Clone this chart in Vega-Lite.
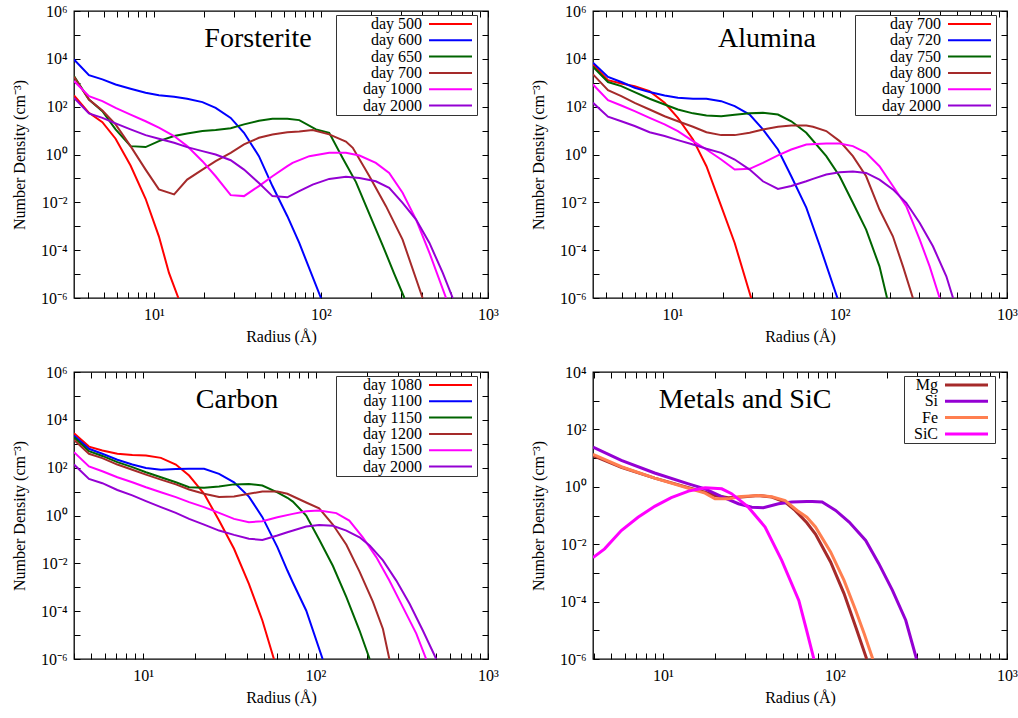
{
  "$schema": "https://vega.github.io/schema/vega-lite/v6.json",
  "padding": {"left": 10, "top": 2, "right": 0, "bottom": 5},
  "config": {
    "font": "Liberation Serif",
    "view": {"stroke": "#000", "strokeWidth": 1.3},
    "axis": {"labelFont": "Liberation Serif", "labelFontSize": 16, "labelColor": "#000", "titleFont": "Liberation Serif", "titleFontSize": 16, "titleFontWeight": "normal", "titleColor": "#000", "tickColor": "#000", "tickWidth": 1, "grid": false, "domain": false, "labelOverlap": false},
    "legend": {"title": null, "orient": "none", "legendY": 4, "symbolType": "M-5.375,0H5.375", "symbolSize": 64, "symbolStrokeWidth": 2, "labelAlign": "right", "labelFont": "Liberation Serif", "labelFontSize": 16, "labelColor": "#000", "strokeColor": "#333", "fillColor": "#fff", "padding": 1, "rowPadding": 0.3, "labelLimit": 300},
    "title": {"font": "Liberation Serif", "fontSize": 28, "fontWeight": "normal", "color": "#000", "anchor": "middle", "frame": "group", "offset": -50, "baseline": "alphabetic"}
  },
  "datasets": {
    "fo": [
      {"s":"day 500","r":3.32,"n":295},{"s":"day 500","r":4.08,"n":55},{"s":"day 500","r":4.91,"n":22.4},{"s":"day 500","r":5.89,"n":4.57},{"s":"day 500","r":7.24,"n":0.347},{"s":"day 500","r":8.91,"n":0.0141},{"s":"day 500","r":10.7,"n":0.00038},{"s":"day 500","r":12.3,"n":0.0000112},{"s":"day 500","r":14.0,"n":0.000001},
      {"s":"day 600","r":3.32,"n":9330},{"s":"day 600","r":4.08,"n":2090},{"s":"day 600","r":4.91,"n":1380},{"s":"day 600","r":5.89,"n":851},{"s":"day 600","r":7.24,"n":562},{"s":"day 600","r":8.91,"n":380},{"s":"day 600","r":10.7,"n":302},{"s":"day 600","r":13.2,"n":257},{"s":"day 600","r":15.8,"n":214},{"s":"day 600","r":19.5,"n":155},{"s":"day 600","r":23.4,"n":89},{"s":"day 600","r":28.8,"n":33.9},{"s":"day 600","r":34.6,"n":8.13},{"s":"day 600","r":42.5,"n":0.851},{"s":"day 600","r":51.2,"n":0.0479},{"s":"day 600","r":62.9,"n":0.00263},{"s":"day 600","r":74.1,"n":0.0002},{"s":"day 600","r":100,"n":0.000001},
      {"s":"day 650","r":3.32,"n":1905},{"s":"day 650","r":4.08,"n":200},{"s":"day 650","r":4.91,"n":64.6},{"s":"day 650","r":5.89,"n":11.2},{"s":"day 650","r":7.24,"n":2.24},{"s":"day 650","r":8.91,"n":2.04},{"s":"day 650","r":10.7,"n":3.63},{"s":"day 650","r":13.2,"n":5.89},{"s":"day 650","r":15.8,"n":7.59},{"s":"day 650","r":19.5,"n":9.55},{"s":"day 650","r":23.4,"n":10.5},{"s":"day 650","r":28.8,"n":12.6},{"s":"day 650","r":34.6,"n":18.2},{"s":"day 650","r":42.5,"n":25.7},{"s":"day 650","r":51.2,"n":30.9},{"s":"day 650","r":62.9,"n":30.9},{"s":"day 650","r":74.1,"n":27.4},{"s":"day 650","r":93.3,"n":11.2},{"s":"day 650","r":112,"n":8.0},{"s":"day 650","r":135,"n":0.7},{"s":"day 650","r":162,"n":0.07},{"s":"day 650","r":195,"n":0.0032},{"s":"day 650","r":234,"n":0.00016},{"s":"day 650","r":275,"n":0.00001},{"s":"day 650","r":316,"n":0.000001},
      {"s":"day 700","r":3.32,"n":1778},{"s":"day 700","r":4.08,"n":200},{"s":"day 700","r":4.91,"n":69.2},{"s":"day 700","r":5.89,"n":18.2},{"s":"day 700","r":7.24,"n":2.24},{"s":"day 700","r":8.91,"n":0.234},{"s":"day 700","r":10.7,"n":0.0347},{"s":"day 700","r":13.2,"n":0.0214},{"s":"day 700","r":15.8,"n":0.0891},{"s":"day 700","r":19.5,"n":0.234},{"s":"day 700","r":23.4,"n":0.525},{"s":"day 700","r":28.8,"n":1.17},{"s":"day 700","r":34.6,"n":2.63},{"s":"day 700","r":42.5,"n":5.01},{"s":"day 700","r":51.2,"n":6.92},{"s":"day 700","r":62.9,"n":8.51},{"s":"day 700","r":74.1,"n":9.12},{"s":"day 700","r":89.1,"n":10.5},{"s":"day 700","r":112,"n":6.92},{"s":"day 700","r":141,"n":3.5},{"s":"day 700","r":155,"n":1.9},{"s":"day 700","r":195,"n":0.123},{"s":"day 700","r":245,"n":0.00692},{"s":"day 700","r":308,"n":0.000275},{"s":"day 700","r":406,"n":0.000001},
      {"s":"day 1000","r":3.32,"n":1175},{"s":"day 1000","r":4.08,"n":275},{"s":"day 1000","r":4.91,"n":170},{"s":"day 1000","r":5.89,"n":89.1},{"s":"day 1000","r":7.24,"n":46.8},{"s":"day 1000","r":8.91,"n":24.5},{"s":"day 1000","r":10.7,"n":13.2},{"s":"day 1000","r":13.2,"n":5.89},{"s":"day 1000","r":15.8,"n":2.24},{"s":"day 1000","r":19.5,"n":0.525},{"s":"day 1000","r":23.4,"n":0.123},{"s":"day 1000","r":28.8,"n":0.02},{"s":"day 1000","r":34.6,"n":0.0182},{"s":"day 1000","r":42.5,"n":0.0479},{"s":"day 1000","r":51.2,"n":0.123},{"s":"day 1000","r":62.9,"n":0.324},{"s":"day 1000","r":67.6,"n":0.447},{"s":"day 1000","r":85.1,"n":0.851},{"s":"day 1000","r":112,"n":1.17},{"s":"day 1000","r":141,"n":1.17},{"s":"day 1000","r":170,"n":0.91},{"s":"day 1000","r":213,"n":0.447},{"s":"day 1000","r":256,"n":0.17},{"s":"day 1000","r":308,"n":0.0251},{"s":"day 1000","r":371,"n":0.0019},{"s":"day 1000","r":446,"n":0.0000776},{"s":"day 1000","r":561,"n":0.000001},
      {"s":"day 2000","r":3.32,"n":234},{"s":"day 2000","r":4.08,"n":52.5},{"s":"day 2000","r":4.91,"n":33.9},{"s":"day 2000","r":5.89,"n":20},{"s":"day 2000","r":7.24,"n":11.2},{"s":"day 2000","r":8.91,"n":6.46},{"s":"day 2000","r":10.7,"n":4.57},{"s":"day 2000","r":13.2,"n":3.09},{"s":"day 2000","r":15.8,"n":2.04},{"s":"day 2000","r":19.5,"n":1.38},{"s":"day 2000","r":23.4,"n":1.0},{"s":"day 2000","r":28.8,"n":0.575},{"s":"day 2000","r":34.6,"n":0.234},{"s":"day 2000","r":42.5,"n":0.0646},{"s":"day 2000","r":51.2,"n":0.0182},{"s":"day 2000","r":62.9,"n":0.0162},{"s":"day 2000","r":74.1,"n":0.0295},{"s":"day 2000","r":89.1,"n":0.055},{"s":"day 2000","r":112,"n":0.0955},{"s":"day 2000","r":141,"n":0.117},{"s":"day 2000","r":170,"n":0.105},{"s":"day 2000","r":213,"n":0.0759},{"s":"day 2000","r":256,"n":0.0407},{"s":"day 2000","r":308,"n":0.00955},{"s":"day 2000","r":371,"n":0.0019},{"s":"day 2000","r":446,"n":0.0002},{"s":"day 2000","r":536,"n":0.0000112},{"s":"day 2000","r":615,"n":0.000001}
    ],
    "al": [
      {"s":"day 700","r":3.36,"n":5890},{"s":"day 700","r":4.13,"n":1290},{"s":"day 700","r":4.96,"n":933},{"s":"day 700","r":5.96,"n":724},{"s":"day 700","r":7.32,"n":447},{"s":"day 700","r":9.0,"n":145},{"s":"day 700","r":10.8,"n":33.9},{"s":"day 700","r":13.3,"n":4.27},{"s":"day 700","r":16.0,"n":0.324},{"s":"day 700","r":19.6,"n":0.00692},{"s":"day 700","r":23.6,"n":0.0002},{"s":"day 700","r":29.6,"n":0.000001},
      {"s":"day 720","r":3.36,"n":6920},{"s":"day 720","r":4.13,"n":1740},{"s":"day 720","r":4.96,"n":1070},{"s":"day 720","r":5.96,"n":617},{"s":"day 720","r":7.32,"n":407},{"s":"day 720","r":9.0,"n":295},{"s":"day 720","r":10.8,"n":234},{"s":"day 720","r":13.3,"n":214},{"s":"day 720","r":16.0,"n":214},{"s":"day 720","r":19.6,"n":170},{"s":"day 720","r":23.6,"n":105},{"s":"day 720","r":29.0,"n":46.8},{"s":"day 720","r":34.8,"n":11.2},{"s":"day 720","r":42.8,"n":1.62},{"s":"day 720","r":51.4,"n":0.123},{"s":"day 720","r":63.2,"n":0.006},{"s":"day 720","r":75.9,"n":0.00016},{"s":"day 720","r":97,"n":0.000001},
      {"s":"day 750","r":3.36,"n":4680},{"s":"day 750","r":4.13,"n":1070},{"s":"day 750","r":4.96,"n":724},{"s":"day 750","r":5.96,"n":407},{"s":"day 750","r":7.32,"n":214},{"s":"day 750","r":9.0,"n":123},{"s":"day 750","r":10.8,"n":75.9},{"s":"day 750","r":13.3,"n":52.5},{"s":"day 750","r":16.0,"n":42.7},{"s":"day 750","r":19.6,"n":39.8},{"s":"day 750","r":23.6,"n":45.7},{"s":"day 750","r":29.0,"n":52.5},{"s":"day 750","r":34.8,"n":55},{"s":"day 750","r":42.8,"n":46.8},{"s":"day 750","r":51.4,"n":24.5},{"s":"day 750","r":63.2,"n":8.13},{"s":"day 750","r":83.2,"n":0.85},{"s":"day 750","r":100,"n":0.123},{"s":"day 750","r":120,"n":0.00955},{"s":"day 750","r":144,"n":0.00072},{"s":"day 750","r":173,"n":0.000021},{"s":"day 750","r":192,"n":0.000001},
      {"s":"day 800","r":3.36,"n":2240},{"s":"day 800","r":4.13,"n":490},{"s":"day 800","r":4.96,"n":275},{"s":"day 800","r":5.96,"n":145},{"s":"day 800","r":7.32,"n":75.9},{"s":"day 800","r":9.0,"n":39.8},{"s":"day 800","r":10.8,"n":24.5},{"s":"day 800","r":13.3,"n":14.5},{"s":"day 800","r":16.0,"n":8.51},{"s":"day 800","r":19.6,"n":6.46},{"s":"day 800","r":23.6,"n":6.46},{"s":"day 800","r":29.0,"n":8.13},{"s":"day 800","r":34.8,"n":11.2},{"s":"day 800","r":42.8,"n":14.5},{"s":"day 800","r":51.4,"n":16.2},{"s":"day 800","r":63.2,"n":16.2},{"s":"day 800","r":69.3,"n":14.5},{"s":"day 800","r":83.2,"n":9.55},{"s":"day 800","r":100,"n":3.63},{"s":"day 800","r":120,"n":0.851},{"s":"day 800","r":144,"n":0.123},{"s":"day 800","r":173,"n":0.005},{"s":"day 800","r":208,"n":0.00038},{"s":"day 800","r":239,"n":0.000021},{"s":"day 800","r":274,"n":0.000001},
      {"s":"day 1000","r":3.36,"n":851},{"s":"day 1000","r":4.13,"n":186},{"s":"day 1000","r":4.96,"n":112},{"s":"day 1000","r":5.96,"n":64.6},{"s":"day 1000","r":7.32,"n":33.9},{"s":"day 1000","r":9.0,"n":18.2},{"s":"day 1000","r":10.8,"n":9.55},{"s":"day 1000","r":13.3,"n":3.63},{"s":"day 1000","r":16.0,"n":1.62},{"s":"day 1000","r":19.6,"n":0.617},{"s":"day 1000","r":23.6,"n":0.234},{"s":"day 1000","r":29.0,"n":0.251},{"s":"day 1000","r":34.8,"n":0.447},{"s":"day 1000","r":42.8,"n":0.912},{"s":"day 1000","r":51.4,"n":1.62},{"s":"day 1000","r":63.2,"n":2.63},{"s":"day 1000","r":83.2,"n":2.88},{"s":"day 1000","r":100,"n":2.88},{"s":"day 1000","r":120,"n":2.24},{"s":"day 1000","r":144,"n":1.17},{"s":"day 1000","r":173,"n":0.324},{"s":"day 1000","r":208,"n":0.0479},{"s":"day 1000","r":250,"n":0.00692},{"s":"day 1000","r":301,"n":0.000275},{"s":"day 1000","r":345,"n":0.000021},{"s":"day 1000","r":396,"n":0.000001},
      {"s":"day 2000","r":3.36,"n":145},{"s":"day 2000","r":4.13,"n":38},{"s":"day 2000","r":4.96,"n":24.5},{"s":"day 2000","r":5.96,"n":15.5},{"s":"day 2000","r":7.32,"n":8.51},{"s":"day 2000","r":9.0,"n":5.89},{"s":"day 2000","r":10.8,"n":3.98},{"s":"day 2000","r":13.3,"n":2.63},{"s":"day 2000","r":16.0,"n":1.74},{"s":"day 2000","r":19.6,"n":1.17},{"s":"day 2000","r":23.6,"n":0.617},{"s":"day 2000","r":29.0,"n":0.234},{"s":"day 2000","r":34.8,"n":0.0759},{"s":"day 2000","r":42.8,"n":0.0363},{"s":"day 2000","r":51.4,"n":0.0479},{"s":"day 2000","r":63.2,"n":0.0759},{"s":"day 2000","r":69.3,"n":0.0955},{"s":"day 2000","r":83.2,"n":0.145},{"s":"day 2000","r":100,"n":0.182},{"s":"day 2000","r":120,"n":0.195},{"s":"day 2000","r":144,"n":0.17},{"s":"day 2000","r":173,"n":0.0891},{"s":"day 2000","r":208,"n":0.0347},{"s":"day 2000","r":250,"n":0.00955},{"s":"day 2000","r":301,"n":0.00138},{"s":"day 2000","r":361,"n":0.000145},{"s":"day 2000","r":434,"n":0.0000081},{"s":"day 2000","r":476,"n":0.000001}
    ],
    "c": [
      {"s":"day 1080","r":3.98,"n":2750},{"s":"day 1080","r":4.86,"n":759},{"s":"day 1080","r":5.81,"n":525},{"s":"day 1080","r":7.10,"n":380},{"s":"day 1080","r":8.67,"n":339},{"s":"day 1080","r":10.4,"n":324},{"s":"day 1080","r":12.7,"n":257},{"s":"day 1080","r":15.5,"n":135},{"s":"day 1080","r":18.5,"n":46.8},{"s":"day 1080","r":22.6,"n":8.13},{"s":"day 1080","r":27.6,"n":0.617},{"s":"day 1080","r":33.7,"n":0.0407},{"s":"day 1080","r":41.1,"n":0.00138},{"s":"day 1080","r":49.2,"n":0.0000407},{"s":"day 1080","r":57.4,"n":0.000001},
      {"s":"day 1100","r":3.98,"n":2190},{"s":"day 1100","r":4.86,"n":617},{"s":"day 1100","r":5.81,"n":380},{"s":"day 1100","r":7.10,"n":214},{"s":"day 1100","r":8.67,"n":135},{"s":"day 1100","r":10.4,"n":97.7},{"s":"day 1100","r":12.7,"n":81.3},{"s":"day 1100","r":15.5,"n":87.1},{"s":"day 1100","r":18.5,"n":89.1},{"s":"day 1100","r":22.6,"n":89.1},{"s":"day 1100","r":27.6,"n":55},{"s":"day 1100","r":33.7,"n":24.5},{"s":"day 1100","r":41.1,"n":6.17},{"s":"day 1100","r":49.2,"n":0.851},{"s":"day 1100","r":60.1,"n":0.0479},{"s":"day 1100","r":68.7,"n":0.005},{"s":"day 1100","r":73.9,"n":0.00158},{"s":"day 1100","r":88.3,"n":0.000107},{"s":"day 1100","r":110,"n":0.000001},
      {"s":"day 1150","r":3.98,"n":1860},{"s":"day 1150","r":4.86,"n":490},{"s":"day 1150","r":5.81,"n":309},{"s":"day 1150","r":7.10,"n":170},{"s":"day 1150","r":8.67,"n":105},{"s":"day 1150","r":10.4,"n":64.6},{"s":"day 1150","r":12.7,"n":39.8},{"s":"day 1150","r":15.5,"n":24.5},{"s":"day 1150","r":18.5,"n":15.1},{"s":"day 1150","r":22.6,"n":14.5},{"s":"day 1150","r":27.6,"n":16.2},{"s":"day 1150","r":33.7,"n":20},{"s":"day 1150","r":41.1,"n":20.9},{"s":"day 1150","r":49.2,"n":17.8},{"s":"day 1150","r":60.1,"n":9.3},{"s":"day 1150","r":68.7,"n":5.5},{"s":"day 1150","r":73.9,"n":3.8},{"s":"day 1150","r":88.3,"n":1.0},{"s":"day 1150","r":105,"n":0.1},{"s":"day 1150","r":126,"n":0.0079},{"s":"day 1150","r":151,"n":0.00039},{"s":"day 1150","r":180,"n":0.0000155},{"s":"day 1150","r":206,"n":0.000001},
      {"s":"day 1200","r":3.98,"n":1450},{"s":"day 1200","r":4.86,"n":380},{"s":"day 1200","r":5.81,"n":251},{"s":"day 1200","r":7.10,"n":135},{"s":"day 1200","r":8.67,"n":81.3},{"s":"day 1200","r":10.4,"n":51.3},{"s":"day 1200","r":12.7,"n":31.6},{"s":"day 1200","r":15.5,"n":20},{"s":"day 1200","r":18.5,"n":12.3},{"s":"day 1200","r":22.6,"n":8.13},{"s":"day 1200","r":27.6,"n":5.89},{"s":"day 1200","r":33.7,"n":6.17},{"s":"day 1200","r":41.1,"n":8.13},{"s":"day 1200","r":49.2,"n":10},{"s":"day 1200","r":60.1,"n":10},{"s":"day 1200","r":68.7,"n":8.13},{"s":"day 1200","r":88.3,"n":3.5},{"s":"day 1200","r":105,"n":2.0},{"s":"day 1200","r":126,"n":0.42},{"s":"day 1200","r":151,"n":0.06},{"s":"day 1200","r":180,"n":0.0045},{"s":"day 1200","r":215,"n":0.00025},{"s":"day 1200","r":246,"n":0.000018},{"s":"day 1200","r":268,"n":0.000001},
      {"s":"day 1500","r":3.98,"n":447},{"s":"day 1500","r":4.86,"n":112},{"s":"day 1500","r":5.81,"n":70.8},{"s":"day 1500","r":7.10,"n":39.8},{"s":"day 1500","r":8.67,"n":24.5},{"s":"day 1500","r":10.4,"n":15.1},{"s":"day 1500","r":12.7,"n":9.33},{"s":"day 1500","r":15.5,"n":5.89},{"s":"day 1500","r":18.5,"n":3.63},{"s":"day 1500","r":22.6,"n":2.24},{"s":"day 1500","r":27.6,"n":1.29},{"s":"day 1500","r":33.7,"n":0.724},{"s":"day 1500","r":41.1,"n":0.525},{"s":"day 1500","r":49.2,"n":0.575},{"s":"day 1500","r":60.1,"n":0.851},{"s":"day 1500","r":73.9,"n":1.17},{"s":"day 1500","r":88.3,"n":1.51},{"s":"day 1500","r":105,"n":1.62},{"s":"day 1500","r":132,"n":1.26},{"s":"day 1500","r":157,"n":0.617},{"s":"day 1500","r":188,"n":0.123},{"s":"day 1500","r":225,"n":0.0182},{"s":"day 1500","r":268,"n":0.0019},{"s":"day 1500","r":321,"n":0.000148},{"s":"day 1500","r":384,"n":0.0000115},{"s":"day 1500","r":438,"n":0.000001},
      {"s":"day 2000","r":3.98,"n":135},{"s":"day 2000","r":4.86,"n":33.9},{"s":"day 2000","r":5.81,"n":22.4},{"s":"day 2000","r":7.10,"n":11.7},{"s":"day 2000","r":8.67,"n":6.92},{"s":"day 2000","r":10.4,"n":3.98},{"s":"day 2000","r":12.7,"n":2.24},{"s":"day 2000","r":15.5,"n":1.29},{"s":"day 2000","r":18.5,"n":0.724},{"s":"day 2000","r":22.6,"n":0.417},{"s":"day 2000","r":27.6,"n":0.234},{"s":"day 2000","r":33.7,"n":0.155},{"s":"day 2000","r":41.1,"n":0.107},{"s":"day 2000","r":49.2,"n":0.0955},{"s":"day 2000","r":60.1,"n":0.145},{"s":"day 2000","r":68.7,"n":0.2},{"s":"day 2000","r":88.3,"n":0.347},{"s":"day 2000","r":105,"n":0.398},{"s":"day 2000","r":126,"n":0.372},{"s":"day 2000","r":151,"n":0.234},{"s":"day 2000","r":180,"n":0.123},{"s":"day 2000","r":206,"n":0.0562},{"s":"day 2000","r":246,"n":0.0132},{"s":"day 2000","r":294,"n":0.0019},{"s":"day 2000","r":351,"n":0.000204},{"s":"day 2000","r":419,"n":0.0000155},{"s":"day 2000","r":501,"n":0.000001}
    ],
    "m": [
      {"s":"Mg","r":3.93,"n":12.3},{"s":"Mg","r":5.74,"n":4.79},{"s":"Mg","r":8.97,"n":2.0},{"s":"Mg","r":14.1,"n":0.933},{"s":"Mg","r":17.6,"n":0.646},{"s":"Mg","r":20.1,"n":0.501},{"s":"Mg","r":24.0,"n":0.417},{"s":"Mg","r":28.7,"n":0.437},{"s":"Mg","r":35.9,"n":0.501},{"s":"Mg","r":43.0,"n":0.437},{"s":"Mg","r":51.4,"n":0.295},{"s":"Mg","r":58.7,"n":0.151},{"s":"Mg","r":68.7,"n":0.056},{"s":"Mg","r":77.1,"n":0.0224},{"s":"Mg","r":94.4,"n":0.0024},{"s":"Mg","r":113,"n":0.00019},{"s":"Mg","r":132,"n":0.0000132},{"s":"Mg","r":153,"n":0.000001},
      {"s":"Si","r":3.93,"n":24},{"s":"Si","r":5.74,"n":8.32},{"s":"Si","r":8.97,"n":3.02},{"s":"Si","r":14.1,"n":1.27},{"s":"Si","r":17.6,"n":0.851},{"s":"Si","r":22.0,"n":0.457},{"s":"Si","r":27.5,"n":0.257},{"s":"Si","r":32.9,"n":0.195},{"s":"Si","r":38.4,"n":0.186},{"s":"Si","r":47.0,"n":0.257},{"s":"Si","r":56.2,"n":0.295},{"s":"Si","r":68.7,"n":0.309},{"s":"Si","r":73.8,"n":0.309},{"s":"Si","r":84.3,"n":0.295},{"s":"Si","r":101,"n":0.151},{"s":"Si","r":121,"n":0.0589},{"s":"Si","r":151,"n":0.0135},{"s":"Si","r":180,"n":0.0021},{"s":"Si","r":216,"n":0.000245},{"s":"Si","r":258,"n":0.0000224},{"s":"Si","r":298,"n":0.000001},
      {"s":"Fe","r":3.93,"n":13.5},{"s":"Fe","r":5.74,"n":5.0},{"s":"Fe","r":8.97,"n":2.0},{"s":"Fe","r":14.1,"n":0.89},{"s":"Fe","r":17.6,"n":0.6},{"s":"Fe","r":20.1,"n":0.38},{"s":"Fe","r":24.0,"n":0.38},{"s":"Fe","r":28.7,"n":0.46},{"s":"Fe","r":35.9,"n":0.5},{"s":"Fe","r":43.0,"n":0.45},{"s":"Fe","r":51.4,"n":0.33},{"s":"Fe","r":60.3,"n":0.15},{"s":"Fe","r":68.7,"n":0.087},{"s":"Fe","r":77.1,"n":0.04},{"s":"Fe","r":94.4,"n":0.0054},{"s":"Fe","r":113,"n":0.00055},{"s":"Fe","r":132,"n":0.00005},{"s":"Fe","r":148,"n":0.0000076},{"s":"Fe","r":166,"n":0.000001},
      {"s":"SiC","r":3.93,"n":0.0034},{"s":"SiC","r":4.59,"n":0.0069},{"s":"SiC","r":5.74,"n":0.03},{"s":"SiC","r":7.18,"n":0.087},{"s":"SiC","r":8.97,"n":0.209},{"s":"SiC","r":11.2,"n":0.417},{"s":"SiC","r":14.1,"n":0.708},{"s":"SiC","r":17.6,"n":0.933},{"s":"SiC","r":22.0,"n":0.851},{"s":"SiC","r":25.1,"n":0.575},{"s":"SiC","r":31.4,"n":0.195},{"s":"SiC","r":39.3,"n":0.0398},{"s":"SiC","r":49.1,"n":0.00275},{"s":"SiC","r":61.7,"n":0.00011},{"s":"SiC","r":68.5,"n":0.00001},{"s":"SiC","r":75.5,"n":0.000001}
    ]
  },
  "concat": [
    {
      "width": 414, "height": 287,
      "data": {"name": "fo"},
      "title": {"text": "Forsterite", "dx": -23},
      "layer": [
        {
          "mark": {"type": "line", "clip": true, "strokeWidth": 2},
          "encoding": {
            "x": {"field": "r", "type": "quantitative", "scale": {"type": "log", "domain": [3.32, 1000], "nice": false},
              "axis": {"orient": "bottom", "title": "Radius (Å)", "values": [4,5,6,7,8,9,10,20,30,40,50,60,70,80,90,100,200,300,400,500,600,700,800,900,1000], "labelExpr": "datum.value == 10 ? '10¹' : datum.value == 100 ? '10²' : datum.value == 1000 ? '10³' : ''", "tickSize": -6, "labelPadding": 14, "labelFlush": false, "titlePadding": 6}},
            "y": {"field": "n", "type": "quantitative", "scale": {"type": "log", "domain": [0.000001, 1000000], "nice": false},
              "axis": {"orient": "left", "title": "Number Density (cm⁻³)", "values": [0.000001,0.00001,0.0001,0.001,0.01,0.1,1,10,100,1000,10000,100000,1000000], "labelExpr": "round(log(datum.value)/LN10) % 2 != 0 ? '' : '10' + (datum.value < 1 ? '⁻' : '') + substring('⁰¹²³⁴⁵⁶', abs(round(log(datum.value)/LN10)), abs(round(log(datum.value)/LN10)) + 1)", "tickSize": -6, "labelPadding": 13, "titlePadding": 13}},
            "color": {"field": "s", "type": "nominal", "scale": {"domain": ["day 500","day 600","day 650","day 700","day 1000","day 2000"], "range": ["#ff0000","#0000ff","#006400","#a52a2a","#ff00ff","#9400d3"]},
              "legend": {"legendX": 262, "symbolOffset": 105.5, "labelOffset": -36.5}}
          }
        },
        {
          "mark": {"type": "point", "opacity": 0},
          "encoding": {
            "x": {"field": "r", "type": "quantitative", "axis": {"orient": "top", "title": null, "labels": false, "values": [4,5,6,7,8,9,10,20,30,40,50,60,70,80,90,100,200,300,400,500,600,700,800,900,1000], "tickSize": -6}},
            "y": {"field": "n", "type": "quantitative", "axis": {"orient": "right", "title": null, "labels": false, "values": [0.000001,0.00001,0.0001,0.001,0.01,0.1,1,10,100,1000,10000,100000,1000000], "tickSize": -6}}
          }
        }
      ],
      "resolve": {"axis": {"x": "independent", "y": "independent"}}
    },
    {
      "width": 414, "height": 287,
      "data": {"name": "al"},
      "title": {"text": "Alumina", "dx": -33},
      "layer": [
        {
          "mark": {"type": "line", "clip": true, "strokeWidth": 2},
          "encoding": {
            "x": {"field": "r", "type": "quantitative", "scale": {"type": "log", "domain": [3.36, 1000], "nice": false},
              "axis": {"orient": "bottom", "title": "Radius (Å)", "values": [4,5,6,7,8,9,10,20,30,40,50,60,70,80,90,100,200,300,400,500,600,700,800,900,1000], "labelExpr": "datum.value == 10 ? '10¹' : datum.value == 100 ? '10²' : datum.value == 1000 ? '10³' : ''", "tickSize": -6, "labelPadding": 14, "labelFlush": false, "titlePadding": 6}},
            "y": {"field": "n", "type": "quantitative", "scale": {"type": "log", "domain": [0.000001, 1000000], "nice": false},
              "axis": {"orient": "left", "title": "Number Density (cm⁻³)", "values": [0.000001,0.00001,0.0001,0.001,0.01,0.1,1,10,100,1000,10000,100000,1000000], "labelExpr": "round(log(datum.value)/LN10) % 2 != 0 ? '' : '10' + (datum.value < 1 ? '⁻' : '') + substring('⁰¹²³⁴⁵⁶', abs(round(log(datum.value)/LN10)), abs(round(log(datum.value)/LN10)) + 1)", "tickSize": -6, "labelPadding": 13, "titlePadding": 13}},
            "color": {"field": "s", "type": "nominal", "scale": {"domain": ["day 700","day 720","day 750","day 800","day 1000","day 2000"], "range": ["#ff0000","#0000ff","#006400","#a52a2a","#ff00ff","#9400d3"]},
              "legend": {"legendX": 262, "symbolOffset": 105.5, "labelOffset": -36.5}}
          }
        },
        {
          "mark": {"type": "point", "opacity": 0},
          "encoding": {
            "x": {"field": "r", "type": "quantitative", "axis": {"orient": "top", "title": null, "labels": false, "values": [4,5,6,7,8,9,10,20,30,40,50,60,70,80,90,100,200,300,400,500,600,700,800,900,1000], "tickSize": -6}},
            "y": {"field": "n", "type": "quantitative", "axis": {"orient": "right", "title": null, "labels": false, "values": [0.000001,0.00001,0.0001,0.001,0.01,0.1,1,10,100,1000,10000,100000,1000000], "tickSize": -6}}
          }
        }
      ],
      "resolve": {"axis": {"x": "independent", "y": "independent"}}
    },
    {
      "width": 414, "height": 287,
      "data": {"name": "c"},
      "title": {"text": "Carbon", "dx": -44},
      "layer": [
        {
          "mark": {"type": "line", "clip": true, "strokeWidth": 2},
          "encoding": {
            "x": {"field": "r", "type": "quantitative", "scale": {"type": "log", "domain": [3.98, 1000], "nice": false},
              "axis": {"orient": "bottom", "title": "Radius (Å)", "values": [4,5,6,7,8,9,10,20,30,40,50,60,70,80,90,100,200,300,400,500,600,700,800,900,1000], "labelExpr": "datum.value == 10 ? '10¹' : datum.value == 100 ? '10²' : datum.value == 1000 ? '10³' : ''", "tickSize": -6, "labelPadding": 14, "labelFlush": false, "titlePadding": 6}},
            "y": {"field": "n", "type": "quantitative", "scale": {"type": "log", "domain": [0.000001, 1000000], "nice": false},
              "axis": {"orient": "left", "title": "Number Density (cm⁻³)", "values": [0.000001,0.00001,0.0001,0.001,0.01,0.1,1,10,100,1000,10000,100000,1000000], "labelExpr": "round(log(datum.value)/LN10) % 2 != 0 ? '' : '10' + (datum.value < 1 ? '⁻' : '') + substring('⁰¹²³⁴⁵⁶', abs(round(log(datum.value)/LN10)), abs(round(log(datum.value)/LN10)) + 1)", "tickSize": -6, "labelPadding": 13, "titlePadding": 13}},
            "color": {"field": "s", "type": "nominal", "scale": {"domain": ["day 1080","day 1100","day 1150","day 1200","day 1500","day 2000"], "range": ["#ff0000","#0000ff","#006400","#a52a2a","#ff00ff","#9400d3"]},
              "legend": {"legendX": 262, "symbolOffset": 105.5, "labelOffset": -36.5}}
          }
        },
        {
          "mark": {"type": "point", "opacity": 0},
          "encoding": {
            "x": {"field": "r", "type": "quantitative", "axis": {"orient": "top", "title": null, "labels": false, "values": [4,5,6,7,8,9,10,20,30,40,50,60,70,80,90,100,200,300,400,500,600,700,800,900,1000], "tickSize": -6}},
            "y": {"field": "n", "type": "quantitative", "axis": {"orient": "right", "title": null, "labels": false, "values": [0.000001,0.00001,0.0001,0.001,0.01,0.1,1,10,100,1000,10000,100000,1000000], "tickSize": -6}}
          }
        }
      ],
      "resolve": {"axis": {"x": "independent", "y": "independent"}}
    },
    {
      "width": 414, "height": 287,
      "data": {"name": "m"},
      "title": {"text": "Metals and SiC", "dx": -55},
      "layer": [
        {
          "mark": {"type": "line", "clip": true, "strokeWidth": 3},
          "encoding": {
            "x": {"field": "r", "type": "quantitative", "scale": {"type": "log", "domain": [3.93, 1000], "nice": false},
              "axis": {"orient": "bottom", "title": "Radius (Å)", "values": [4,5,6,7,8,9,10,20,30,40,50,60,70,80,90,100,200,300,400,500,600,700,800,900,1000], "labelExpr": "datum.value == 10 ? '10¹' : datum.value == 100 ? '10²' : datum.value == 1000 ? '10³' : ''", "tickSize": -6, "labelPadding": 14, "labelFlush": false, "titlePadding": 6}},
            "y": {"field": "n", "type": "quantitative", "scale": {"type": "log", "domain": [0.000001, 10000], "nice": false},
              "axis": {"orient": "left", "title": "Number Density (cm⁻³)", "values": [0.000001,0.00001,0.0001,0.001,0.01,0.1,1,10,100,1000,10000], "labelExpr": "round(log(datum.value)/LN10) % 2 != 0 ? '' : '10' + (datum.value < 1 ? '⁻' : '') + substring('⁰¹²³⁴⁵⁶', abs(round(log(datum.value)/LN10)), abs(round(log(datum.value)/LN10)) + 1)", "tickSize": -6, "labelPadding": 13, "titlePadding": 13}},
            "color": {"field": "s", "type": "nominal", "scale": {"domain": ["Mg","Si","Fe","SiC"], "range": ["#a52a2a","#9400d3","#ff7f50","#ff00ff"]},
              "legend": {"legendX": 311, "symbolOffset": 53.5, "labelOffset": -36.5, "symbolStrokeWidth": 3}}
          }
        },
        {
          "mark": {"type": "point", "opacity": 0},
          "encoding": {
            "x": {"field": "r", "type": "quantitative", "axis": {"orient": "top", "title": null, "labels": false, "values": [4,5,6,7,8,9,10,20,30,40,50,60,70,80,90,100,200,300,400,500,600,700,800,900,1000], "tickSize": -6}},
            "y": {"field": "n", "type": "quantitative", "axis": {"orient": "right", "title": null, "labels": false, "values": [0.000001,0.00001,0.0001,0.001,0.01,0.1,1,10,100,1000,10000], "tickSize": -6}}
          }
        }
      ],
      "resolve": {"axis": {"x": "independent", "y": "independent"}}
    }
  ],
  "columns": 2,
  "spacing": {"row": 18, "column": 29},
  "resolve": {"scale": {"x": "independent", "y": "independent", "color": "independent"}, "legend": {"color": "independent"}}
}
